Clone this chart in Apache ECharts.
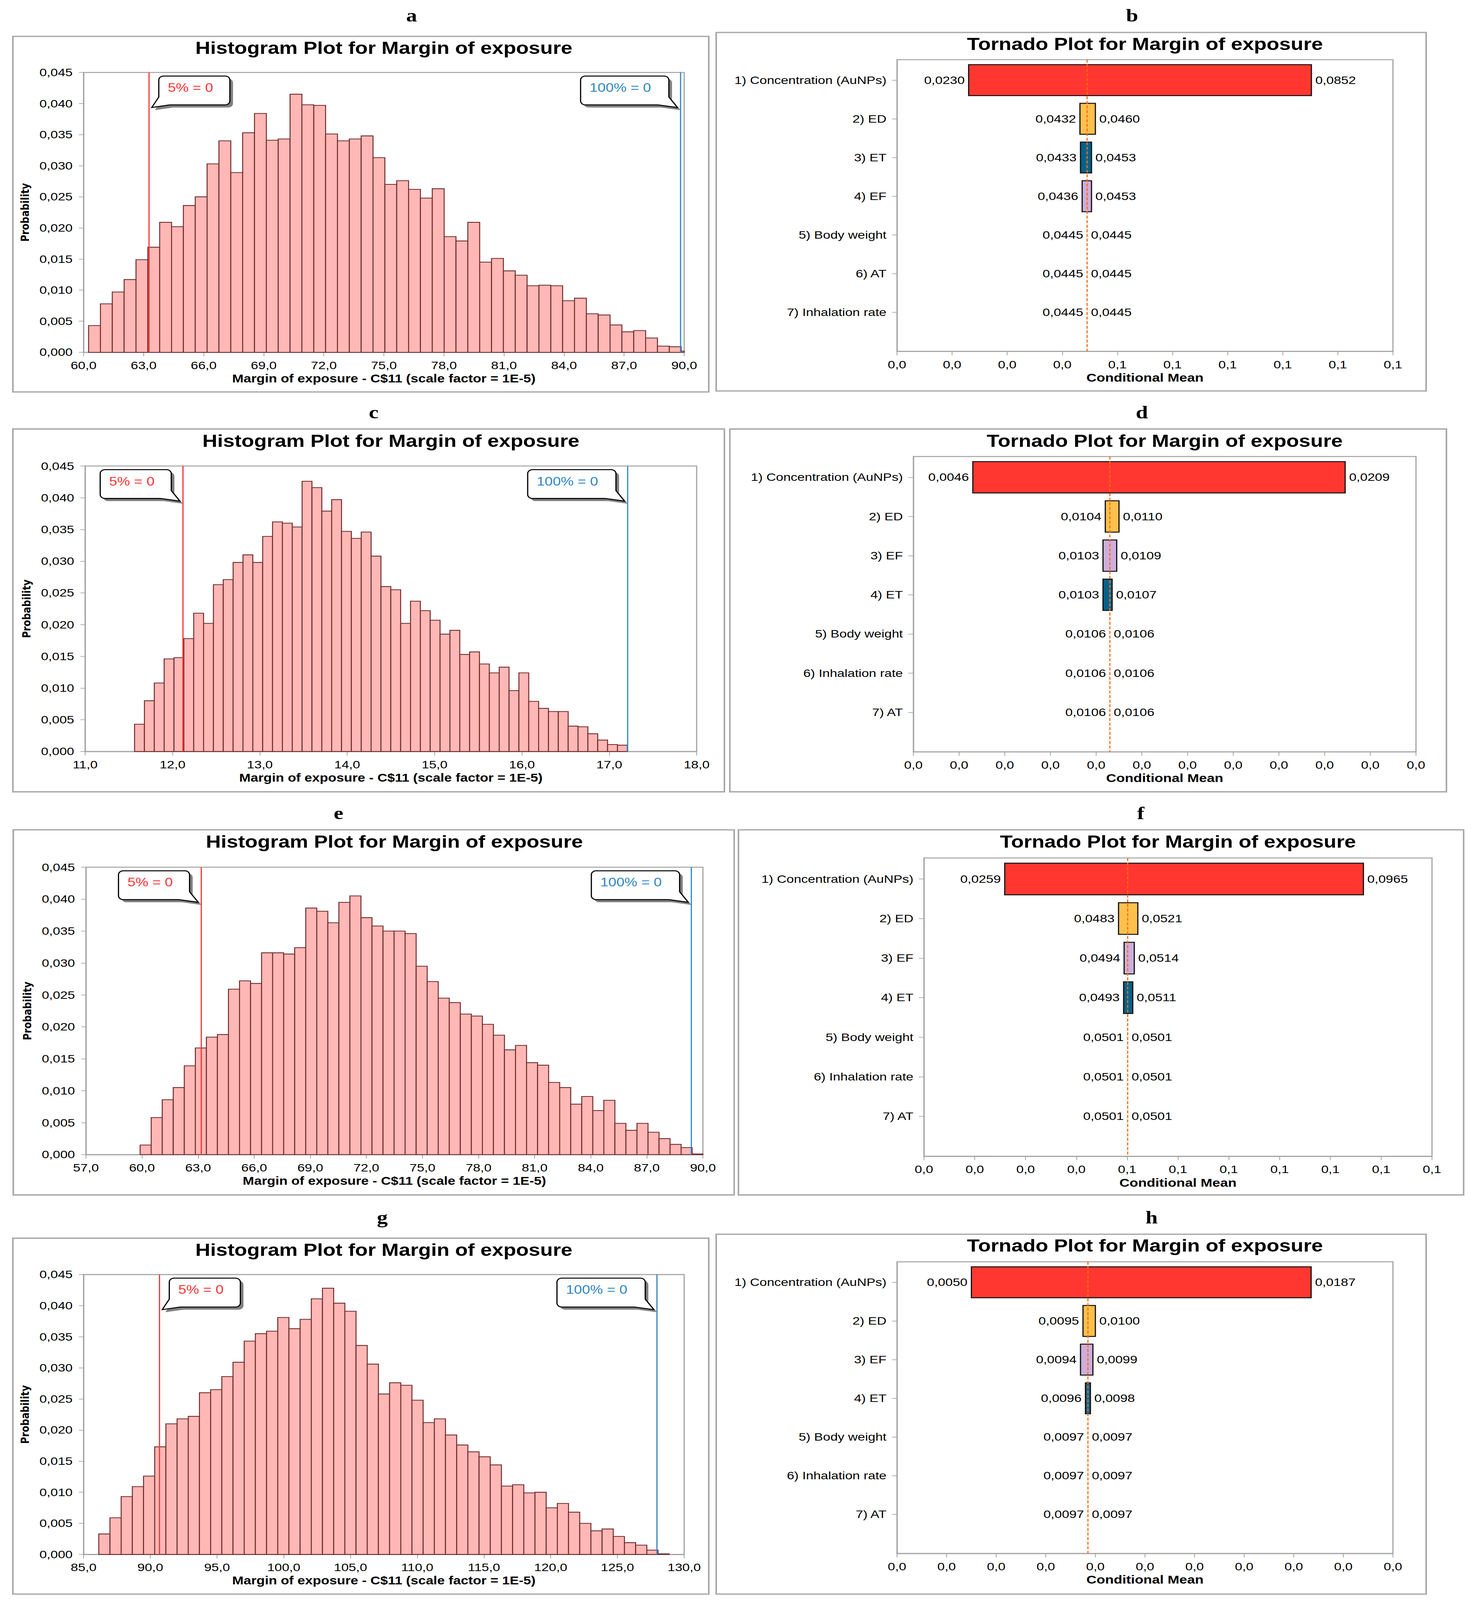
<!DOCTYPE html>
<html><head><meta charset="utf-8">
<script src="https://cdn.jsdelivr.net/npm/echarts@6/dist/echarts.min.js"></script>
<style>html,body{margin:0;padding:0;background:#fff;overflow:hidden}#c{width:3772px;height:4882px;transform-origin:0 0}</style>
</head><body><div id="c"></div>
<script>
// ================= DATA =================
const HIST_TITLE = 'Histogram Plot for Margin of exposure';
const TORN_TITLE = 'Tornado Plot for Margin of exposure';
const HIST_X_NAME = 'Margin of exposure - C$11 (scale factor = 1E-5)';
const HIST_Y_NAME = 'Probability';
const TORN_X_NAME = 'Conditional Mean';
const PCT5_LABEL = '5% = 0';
const PCT100_LABEL = '100% = 0';
const PANEL_LETTERS = ['a', 'b', 'c', 'd', 'e', 'f', 'g', 'h'];

// histogram a
const histA_binStart = 60.25;
const histA_binWidth = 0.592;
const histA_prob = [0.0043, 0.0078, 0.0097, 0.0117, 0.0149, 0.0169, 0.0209, 0.0202, 0.0236, 0.0250,
  0.0303, 0.0340, 0.0289, 0.0353, 0.0384, 0.0341, 0.0343, 0.0415, 0.0398, 0.0397,
  0.0351, 0.0340, 0.0343, 0.0348, 0.0313, 0.0270, 0.0276, 0.0262, 0.0248, 0.0263,
  0.0186, 0.0179, 0.0209, 0.0145, 0.0151, 0.0131, 0.0124, 0.0107, 0.0108, 0.0107,
  0.0083, 0.0087, 0.0062, 0.0060, 0.0044, 0.0033, 0.0035, 0.0023, 0.0010, 0.0009, 0.0002];
const histA_pct5 = 63.27, histA_pct100 = 89.82;
const histA_xTicks = [60, 90, 3];

// histogram c
const histC_binStart = 11.566;
const histC_binWidth = 0.1128;
const histC_prob = [0.0043, 0.0080, 0.0108, 0.0146, 0.0148, 0.0178, 0.0218, 0.0202, 0.0263, 0.0271,
  0.0298, 0.0310, 0.0298, 0.0339, 0.0362, 0.0360, 0.0354, 0.0426, 0.0416, 0.0379,
  0.0397, 0.0347, 0.0336, 0.0346, 0.0308, 0.0260, 0.0255, 0.0202, 0.0237, 0.0222,
  0.0207, 0.0185, 0.0191, 0.0153, 0.0157, 0.0138, 0.0124, 0.0133, 0.0096, 0.0124,
  0.0079, 0.0068, 0.0063, 0.0063, 0.0040, 0.0039, 0.0028, 0.0018, 0.0011, 0.0010];
const histC_pct5 = 12.12, histC_pct100 = 17.21;
const histC_xTicks = [11, 18, 1];

// histogram e
const histE_binStart = 59.90;
const histE_binWidth = 0.5905;
const histE_prob = [0.0015, 0.0058, 0.0086, 0.0105, 0.0139, 0.0167, 0.0184, 0.0188, 0.0259, 0.0272,
  0.0268, 0.0316, 0.0316, 0.0314, 0.0324, 0.0386, 0.0381, 0.0363, 0.0395, 0.0405,
  0.0371, 0.0358, 0.0350, 0.0350, 0.0346, 0.0295, 0.0271, 0.0245, 0.0238, 0.0220,
  0.0217, 0.0204, 0.0187, 0.0164, 0.0171, 0.0144, 0.0140, 0.0113, 0.0105, 0.0079,
  0.0091, 0.0069, 0.0085, 0.0049, 0.0038, 0.0049, 0.0035, 0.0025, 0.0016, 0.0011, 0.0001];
const histE_pct5 = 63.17, histE_pct100 = 89.38;
const histE_xTicks = [57, 90, 3];

// histogram g
const histG_binStart = 86.14;
const histG_binWidth = 0.838;
const histG_prob = [0.0033, 0.0059, 0.0093, 0.0109, 0.0126, 0.0173, 0.0210, 0.0218, 0.0222, 0.0260,
  0.0265, 0.0286, 0.0309, 0.0343, 0.0355, 0.0359, 0.0381, 0.0363, 0.0378, 0.0411,
  0.0428, 0.0404, 0.0391, 0.0336, 0.0306, 0.0258, 0.0276, 0.0272, 0.0248, 0.0212,
  0.0218, 0.0192, 0.0176, 0.0165, 0.0157, 0.0144, 0.0110, 0.0112, 0.0099, 0.0100,
  0.0075, 0.0082, 0.0068, 0.0050, 0.0038, 0.0041, 0.0029, 0.0019, 0.0015, 0.0007, 0.0001];
const histG_pct5 = 90.69, histG_pct100 = 127.96;
const histG_xTicks = [85, 130, 5];

const hist_yTicks = [0, 0.045, 0.005];

// tornado b
const tornB_vars = ['1) Concentration (AuNPs)', '2) ED', '3) ET', '4) EF', '5) Body weight', '6) AT', '7) Inhalation rate'];
const tornB_low  = [0.0230, 0.0432, 0.0433, 0.0436, 0.0445, 0.0445, 0.0445];
const tornB_high = [0.0852, 0.0460, 0.0453, 0.0453, 0.0445, 0.0445, 0.0445];
const tornB_base = 0.0445;
const tornB_xTicks = [0.01, 0.10, 0.01];

// tornado d
const tornD_vars = ['1) Concentration (AuNPs)', '2) ED', '3) EF', '4) ET', '5) Body weight', '6) Inhalation rate', '7) AT'];
const tornD_low  = [0.0046, 0.0104, 0.0103, 0.0103, 0.0106, 0.0106, 0.0106];
const tornD_high = [0.0209, 0.0110, 0.0109, 0.0107, 0.0106, 0.0106, 0.0106];
const tornD_base = 0.0106;
const tornD_xTicks = [0.002, 0.024, 0.002];

// tornado f
const tornF_vars = ['1) Concentration (AuNPs)', '2) ED', '3) EF', '4) ET', '5) Body weight', '6) Inhalation rate', '7) AT'];
const tornF_low  = [0.0259, 0.0483, 0.0494, 0.0493, 0.0501, 0.0501, 0.0501];
const tornF_high = [0.0965, 0.0521, 0.0514, 0.0511, 0.0501, 0.0501, 0.0501];
const tornF_base = 0.0501;
const tornF_xTicks = [0.01, 0.11, 0.01];

// tornado h
const tornH_vars = ['1) Concentration (AuNPs)', '2) ED', '3) EF', '4) ET', '5) Body weight', '6) Inhalation rate', '7) AT'];
const tornH_low  = [0.0050, 0.0095, 0.0094, 0.0096, 0.0097, 0.0097, 0.0097];
const tornH_high = [0.0187, 0.0100, 0.0099, 0.0098, 0.0097, 0.0097, 0.0097];
const tornH_base = 0.0097;
const tornH_xTicks = [0.002, 0.022, 0.002];

// ================= STYLE / LAYOUT =================
const PAGE_W = 3772, PAGE_H = 4882;
const FONT = '"Liberation Sans", Arial, sans-serif';
const GREY = '#A3A3A3';
const VAR_COLORS = {'Concentration (AuNPs)': '#FF3730', 'ED': '#FFC04C', 'ET': '#00628A', 'EF': '#CDAEDC'};
const TORN_ROW_MIN = -0.53, TORN_ROW_MAX = 7.01;

const panels = [
  {kind: 'hist', box: [33, 111, 1815, 1196], grid: [214, 221, 1538, 854], titleY: 146, letter: [1054, 47],
   binStart: histA_binStart, binWidth: histA_binWidth, prob: histA_prob, p5: histA_pct5, p100: histA_pct100, xt: histA_xTicks, p5Side: 'right'},
  {kind: 'torn', box: [1834, 99, 3652, 1193], grid: [2297, 182, 1270, 890], titleY: 134, letter: [2899, 47],
   vars: tornB_vars, low: tornB_low, high: tornB_high, base: tornB_base, xt: tornB_xTicks},
  {kind: 'hist', box: [33, 1309, 1855, 2416], grid: [218, 1422, 1566, 871], titleY: 1345, letter: [957, 1258],
   binStart: histC_binStart, binWidth: histC_binWidth, prob: histC_prob, p5: histC_pct5, p100: histC_pct100, xt: histC_xTicks, p5Side: 'left'},
  {kind: 'torn', box: [1869, 1309, 3704, 2416], grid: [2339, 1393, 1287, 901], titleY: 1345, letter: [2924, 1258],
   vars: tornD_vars, low: tornD_low, high: tornD_high, base: tornD_base, xt: tornD_xTicks},
  {kind: 'hist', box: [34, 2532, 1880, 3646], grid: [220, 2646, 1580, 877], titleY: 2568, letter: [867, 2481],
   binStart: histE_binStart, binWidth: histE_binWidth, prob: histE_prob, p5: histE_pct5, p100: histE_pct100, xt: histE_xTicks, p5Side: 'left'},
  {kind: 'torn', box: [1891, 2532, 3748, 3646], grid: [2366, 2618, 1301, 910], titleY: 2568, letter: [2921, 2481],
   vars: tornF_vars, low: tornF_low, high: tornF_high, base: tornF_base, xt: tornF_xTicks},
  {kind: 'hist', box: [33, 3778, 1815, 4864], grid: [214, 3889, 1538, 854], titleY: 3813, letter: [979, 3714],
   binStart: histG_binStart, binWidth: histG_binWidth, prob: histG_prob, p5: histG_pct5, p100: histG_pct100, xt: histG_xTicks, p5Side: 'right'},
  {kind: 'torn', box: [1834, 3766, 3652, 4864], grid: [2297, 3850, 1270, 890], titleY: 3801, letter: [2949, 3714],
   vars: tornH_vars, low: tornH_low, high: tornH_high, base: tornH_base, xt: tornH_xTicks}
];

// The browser viewport may be shorter than the page: fit the whole figure into it.
(function fitToViewport() {
  const sx = Math.min(1, (window.innerWidth || PAGE_W) / PAGE_W);
  const sy = Math.min(1, (window.innerHeight || PAGE_H) / PAGE_H);
  document.getElementById('c').style.transform = 'scale(' + sx + ',' + sy + ')';
})();

const comma = (v, d) => v.toFixed(d).replace('.', ',');

function renderHist(params, api) {
  const x0 = api.value(0), x1 = api.value(1), h = api.value(2);
  const a = api.coord([x0, h]), b = api.coord([x1, 0]);
  const cs = params.coordSys;
  const shape = echarts.graphic.clipRectByRect(
    {x: a[0], y: a[1], width: b[0] - a[0], height: b[1] - a[1]},
    {x: cs.x, y: cs.y, width: cs.width, height: cs.height});
  if (!shape) return;
  return {type: 'rect', shape: shape, style: {fill: '#FFB8B5', stroke: '#6E2C2C', lineWidth: 2.5}};
}

function makeTornRender(vars) {
  return function (params, api) {
    const row = api.value(0), lo = api.value(1), hi = api.value(2);
    const p0 = api.coord([lo, row - 0.4]);
    const p1 = api.coord([hi, row + 0.4]);
    const yc = api.coord([lo, row])[1];
    const name = vars[params.dataIndex].replace(/^\d+\)\s*/, '');
    const children = [];
    if (hi - lo > 1e-9) {
      children.push({type: 'rect',
        shape: {x: p0[0], y: Math.min(p0[1], p1[1]), width: p1[0] - p0[0], height: Math.abs(p1[1] - p0[1])},
        style: {fill: VAR_COLORS[name] || '#999', stroke: '#111', lineWidth: 3}});
    }
    children.push({type: 'text', style: {x: p0[0] - 10, y: yc, text: comma(lo, 4), align: 'right', verticalAlign: 'middle',
      font: '34px ' + FONT, fill: '#000'}});
    children.push({type: 'text', style: {x: p1[0] + 10, y: yc, text: comma(hi, 4), align: 'left', verticalAlign: 'middle',
      font: '34px ' + FONT, fill: '#000'}});
    return {type: 'group', children: children};
  };
}

const grids = [], xAxes = [], yAxes = [], series = [];
const axisLineStyle = {show: true, onZero: false, lineStyle: {color: GREY, width: 3}};
const tickStyle = {show: true, inside: false, length: 12, lineStyle: {color: GREY, width: 2}};

panels.forEach((p, i) => {
  grids.push({left: p.grid[0], top: p.grid[1], width: p.grid[2], height: p.grid[3], show: true,
    borderColor: GREY, borderWidth: 3, backgroundColor: 'transparent', containLabel: false});
  if (p.kind === 'hist') {
    xAxes.push({gridIndex: i, type: 'value', min: p.xt[0], max: p.xt[1], interval: p.xt[2],
      axisLine: axisLineStyle, axisTick: tickStyle, splitLine: {show: false},
      axisLabel: {fontSize: 34, color: '#000', fontFamily: FONT, margin: 23, formatter: v => comma(v, 1)},
      name: HIST_X_NAME, nameLocation: 'middle', nameGap: 62,
      nameTextStyle: {fontSize: 35, fontWeight: 'bold', color: '#000', fontFamily: FONT}});
    yAxes.push({gridIndex: i, type: 'value', min: hist_yTicks[0], max: hist_yTicks[1], interval: hist_yTicks[2],
      axisLine: axisLineStyle, axisTick: tickStyle, splitLine: {show: false},
      axisLabel: {fontSize: 34, color: '#000', fontFamily: FONT, margin: 28, formatter: v => comma(v, 3)},
      name: HIST_Y_NAME, nameLocation: 'middle', nameGap: 136, nameRotate: 90,
      nameTextStyle: {fontSize: 29, fontWeight: 'bold', color: '#000', fontFamily: '"DejaVu Sans", sans-serif'}});
    const data = p.prob.map((h, k) => [p.binStart + k * p.binWidth, p.binStart + (k + 1) * p.binWidth, h]);
    series.push({type: 'custom', xAxisIndex: i, yAxisIndex: i, renderItem: renderHist, data: data,
      encode: {x: [0, 1], y: 2}, z: 2, silent: true});
    series.push({type: 'line', xAxisIndex: i, yAxisIndex: i, data: [[p.p5, hist_yTicks[0]], [p.p5, hist_yTicks[1]]],
      symbol: 'none', lineStyle: {color: '#FF3333', width: 3}, z: 4, silent: true});
    series.push({type: 'line', xAxisIndex: i, yAxisIndex: i, data: [[p.p100, hist_yTicks[0]], [p.p100, hist_yTicks[1]]],
      symbol: 'none', lineStyle: {color: '#2F86C4', width: 3}, z: 4, silent: true});
  } else {
    const rows = p.vars.map((v, k) => k);
    xAxes.push({gridIndex: i, type: 'value', min: p.xt[0], max: p.xt[1], interval: p.xt[2],
      axisLine: axisLineStyle, axisTick: tickStyle, splitLine: {show: false},
      axisLabel: {fontSize: 34, color: '#000', fontFamily: FONT, margin: 23, formatter: v => comma(v, 1)},
      name: TORN_X_NAME, nameLocation: 'middle', nameGap: 62,
      nameTextStyle: {fontSize: 36, fontWeight: 'bold', color: '#000', fontFamily: FONT}});
    yAxes.push({gridIndex: i, type: 'value', inverse: true, min: TORN_ROW_MIN, max: TORN_ROW_MAX,
      axisLine: axisLineStyle, splitLine: {show: false},
      axisTick: {show: true, length: 13, lineStyle: {color: GREY, width: 2}, customValues: rows},
      axisLabel: {fontSize: 34, color: '#000', fontFamily: FONT, margin: 27, customValues: rows,
        formatter: v => p.vars[Math.round(v)] || ''}});
    const data = p.vars.map((v, k) => [k, p.low[k], p.high[k]]);
    series.push({type: 'custom', xAxisIndex: i, yAxisIndex: i, renderItem: makeTornRender(p.vars), data: data,
      encode: {x: [1, 2], y: 0}, z: 2, silent: true});
    series.push({type: 'line', xAxisIndex: i, yAxisIndex: i, data: [[p.base, TORN_ROW_MIN], [p.base, TORN_ROW_MAX]],
      symbol: 'none', lineStyle: {color: '#FF6A13', width: 3, type: [9, 5]}, z: 5, silent: true});
  }
});

const chart = echarts.init(document.getElementById('c'), null, {renderer: 'svg', width: PAGE_W, height: PAGE_H});
chart.setOption({
  animation: false,
  backgroundColor: '#fff',
  textStyle: {fontFamily: FONT},
  grid: grids, xAxis: xAxes, yAxis: yAxes, series: series
});

// ================= GRAPHICS (frames, titles, letters, callouts) =================
function arcPts(cx, cy, r, a0, a1) {
  const pts = [];
  for (let k = 0; k <= 6; k++) {
    const a = a0 + (a1 - a0) * k / 6;
    pts.push([cx + r * Math.cos(a), cy + r * Math.sin(a)]);
  }
  return pts;
}
function bubblePoints(L, T, R, B, side, tipX, tipY) {
  const r = 12, P = Math.PI;
  let pts = [];
  pts = pts.concat(arcPts(R - r, T + r, r, -P / 2, 0));
  if (side === 'left') {
    pts.push([R, B - 24], [tipX, tipY], [R - 28, B]);
  } else {
    pts = pts.concat(arcPts(R - r, B - r, r, 0, P / 2));
  }
  if (side === 'right') {
    pts.push([L + 28, B], [tipX, tipY], [L, B - 24]);
  } else {
    pts = pts.concat(arcPts(L + r, B - r, r, P / 2, P));
  }
  pts = pts.concat(arcPts(L + r, T + r, r, P, 1.5 * P));
  return pts;
}
function callout(lx, top, side, w, text, color) {
  const T = top + 11, B = T + 88;
  let L, R, tipX;
  if (side === 'right') { L = lx + 25; R = L + w; tipX = lx + 7; }
  else { R = lx - 30; L = R - w; tipX = lx - 8; }
  const pts = bubblePoints(L, T, R, B, side, tipX, B + 8);
  return [
    {type: 'polygon', x: 8, y: 8, shape: {points: pts}, style: {fill: '#7F7F7F'}, z: 20, silent: true},
    {type: 'polygon', shape: {points: pts}, style: {fill: '#FFFFFF', stroke: '#000', lineWidth: 3}, z: 21, silent: true},
    {type: 'text', style: {x: L + 23, y: T + 35, text: text, align: 'left', verticalAlign: 'middle',
      font: '37px ' + FONT, fill: color}, z: 22, silent: true}
  ];
}

const graphics = [];
panels.forEach((p, i) => {
  graphics.push({type: 'rect', shape: {x: p.box[0], y: p.box[1], width: p.box[2] - p.box[0], height: p.box[3] - p.box[1]},
    style: {fill: 'none', stroke: '#A8A8A8', lineWidth: 4}, z: 1, silent: true});
  graphics.push({type: 'text', style: {x: p.grid[0] + p.grid[2] / 2, y: p.titleY,
    text: p.kind === 'hist' ? HIST_TITLE : TORN_TITLE, align: 'center', verticalAlign: 'middle',
    font: 'bold 53px ' + FONT, fill: '#000'}, z: 10, silent: true});
  graphics.push({type: 'text', style: {x: p.letter[0], y: p.letter[1], text: PANEL_LETTERS[i], align: 'center',
    verticalAlign: 'middle', font: 'bold 56px "Liberation Serif", "Times New Roman", serif', fill: '#000'}, z: 10, silent: true});
  if (p.kind === 'hist') {
    const l5 = chart.convertToPixel({xAxisIndex: i}, p.p5);
    const l100 = chart.convertToPixel({xAxisIndex: i}, p.p100);
    callout(l5, p.grid[1], p.p5Side, 182, PCT5_LABEL, '#FF3333').forEach(g => graphics.push(g));
    callout(l100, p.grid[1], 'left', 226, PCT100_LABEL, '#2F86C4').forEach(g => graphics.push(g));
  }
});
chart.setOption({graphic: graphics});
</script>
</body></html>
